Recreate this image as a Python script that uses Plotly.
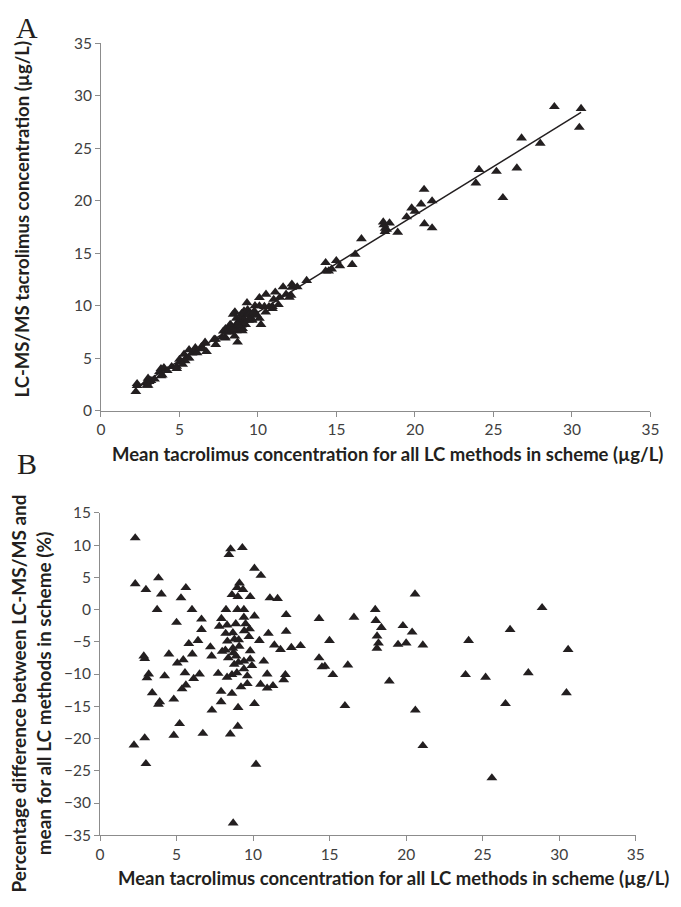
import numpy as np
import plotly.graph_objects as go

# Mean tacrolimus concentration for all LC methods (µg/L)
mean_conc = [2.30, 2.30, 3.00, 3.82, 4.01, 3.73, 5.29, 5.61, 5.00, 6.01,
             6.63, 6.63, 6.40, 5.80, 6.03, 4.50, 2.86, 2.92, 3.18, 3.07,
             4.22, 3.41, 3.90, 3.82, 4.82, 5.05, 5.44, 5.55, 6.12, 6.50,
             5.61, 5.36, 5.20, 7.31, 7.91, 7.91, 8.62, 9.02, 10.09, 9.21,
             9.62, 7.72, 8.30, 8.62, 8.94, 9.40, 9.62, 9.92, 10.49, 10.92,
             10.92, 11.30, 10.70, 9.81, 10.41, 11.00, 11.39, 11.79, 12.16, 12.16,
             11.10, 11.60, 12.11, 12.00, 10.09, 10.51, 8.53, 9.30, 8.42, 9.11,
             8.96, 9.34, 8.62, 9.00, 9.81, 8.23, 8.98, 9.40, 7.93, 7.79,
             8.30, 8.87, 9.40, 9.51, 10.09, 8.21, 8.68, 9.42, 9.77, 9.73,
             8.32, 8.78, 9.06, 7.21, 7.29, 7.98, 8.19, 8.68, 9.09, 8.38,
             8.89, 9.04, 9.40, 9.81, 8.77, 4.82, 6.72, 8.51, 9.00, 2.22,
             2.92, 3.00, 10.19, 8.70, 14.31, 16.59, 20.58, 17.98, 18.02, 18.38,
             19.79, 20.39, 18.10, 18.19, 18.09, 19.47, 20.00, 21.09, 14.99, 13.10,
             12.50, 14.31, 14.50, 14.69, 16.19, 15.21, 18.90, 16.00, 20.60, 21.09,
             24.08, 26.79, 28.88, 30.58, 23.88, 25.19, 27.98, 30.47, 26.49, 25.60,
             8.72]

# LC-MS/MS tacrolimus concentration (µg/L) - panel A
lcmsms_conc = [2.59, 2.40, 3.10, 4.02, 4.11, 3.73, 5.39, 5.81, 4.90, 6.01,
               6.53, 6.43, 6.11, 5.51, 5.64, 4.21, 2.67, 2.71, 2.89, 2.78,
               3.83, 3.02, 3.41, 3.33, 4.23, 4.66, 5.05, 5.05, 5.53, 5.91,
               5.02, 4.77, 4.42, 6.32, 6.92, 7.02, 7.63, 7.83, 8.80, 8.22,
               8.63, 7.02, 7.51, 7.83, 8.14, 8.61, 8.72, 9.13, 9.40, 9.93,
               9.73, 10.11, 9.91, 9.22, 9.93, 10.61, 10.80, 11.10, 11.76, 12.06,
               11.30, 11.80, 11.00, 10.82, 10.78, 11.10, 9.42, 10.29, 9.20, 9.50,
               9.28, 9.64, 8.82, 9.18, 10.01, 8.23, 8.98, 9.40, 7.82, 7.59,
               8.11, 8.68, 9.29, 9.31, 9.99, 7.92, 8.38, 9.12, 9.49, 9.34,
               7.93, 8.39, 8.65, 6.81, 6.80, 7.49, 7.70, 8.19, 8.60, 7.80,
               8.29, 8.35, 8.70, 9.11, 8.08, 4.03, 5.64, 7.13, 7.62, 1.83,
               2.44, 2.42, 8.22, 6.54, 14.11, 16.39, 21.09, 17.98, 17.72, 17.88,
               19.31, 19.70, 17.39, 17.29, 17.07, 18.47, 19.01, 19.99, 14.30, 12.41,
               11.80, 13.31, 13.31, 13.50, 14.91, 13.81, 17.01, 13.93, 17.82, 17.42,
               22.98, 25.98, 28.97, 28.79, 21.69, 22.80, 25.48, 26.99, 23.12, 20.30,
               8.17]

# Percentage difference (%) - panel B
pct_diff = [11.1, 4.0, 3.1, 4.9, 2.4, 0.0, 1.8, 3.4, -2.0, 0.0,
            -1.5, -3.1, -4.8, -5.3, -6.9, -6.9, -7.2, -7.6, -10.0, -10.6,
            -10.3, -12.9, -14.3, -14.7, -13.9, -8.3, -7.8, -9.8, -10.7, -10.0,
            -11.7, -12.3, -17.7, -15.6, -14.3, -12.7, -13.0, -15.2, -14.6, -12.0,
            -11.5, -9.9, -10.5, -10.1, -9.8, -9.2, -10.3, -8.7, -11.6, -10.0,
            -12.2, -11.8, -8.0, -6.4, -4.8, -3.7, -5.5, -6.2, -3.4, -0.8,
            1.8, 1.7, -10.1, -10.9, 6.4, 5.3, 9.4, 9.6, 8.5, 4.1,
            3.4, 3.1, 2.3, 2.0, 2.0, 0.0, 0.0, 0.0, -1.4, -2.6,
            -2.4, -2.2, -1.2, -2.2, -1.0, -3.7, -3.6, -3.3, -3.0, -4.2,
            -4.9, -4.6, -4.7, -5.8, -7.2, -6.5, -6.3, -6.0, -5.7, -7.5,
            -7.2, -8.2, -8.0, -7.7, -8.5, -19.5, -19.2, -19.3, -18.1, -21.0,
            -19.9, -23.9, -24.0, -33.1, -1.4, -1.2, 2.4, 0.0, -1.7, -2.8,
            -2.5, -3.5, -4.1, -5.2, -6.0, -5.4, -5.2, -5.5, -4.8, -5.6,
            -5.9, -7.5, -8.9, -8.8, -8.6, -10.1, -11.1, -14.9, -15.6, -21.1,
            -4.8, -3.1, 0.3, -6.2, -10.1, -10.5, -9.8, -12.9, -14.6, -26.1,
            -6.7]

x_ticks = [0, 5, 10, 15, 20, 25, 30, 35]
yA_ticks = [0, 5, 10, 15, 20, 25, 30, 35]
yB_ticks = [15, 10, 5, 0, -5, -10, -15, -20, -25, -30, -35]

x_title = "Mean tacrolimus concentration for all LC methods in scheme (µg/L)"
yA_title = "LC-MS/MS tacrolimus concentration (µg/L)"
yB_title = "Percentage difference between LC-MS/MS and<br>mean for all LC methods in scheme (%)"

W, H = 681, 907
marker_color = "#231f20"
axis_color = "#8c8c8c"
tick_font = dict(family="Lato, 'Open Sans', sans-serif", size=15.5, color="#404040")
title_font = dict(family="Lato, 'Open Sans', sans-serif", size=18.5, color="#231f20")
titleB_font = dict(family="Lato, 'Open Sans', sans-serif", size=19, color="#231f20")

# linear trendline fitted to the panel A data
slope, intercept = np.polyfit(mean_conc, lcmsms_conc, 1)
x_line = np.array([min(mean_conc), max(mean_conc)])
y_line = slope * x_line + intercept

fig = go.Figure()
fig.add_trace(go.Scatter(x=mean_conc, y=lcmsms_conc, mode="markers",
                         marker=dict(symbol="triangle-up", size=9.5, color=marker_color),
                         xaxis="x", yaxis="y", showlegend=False))
fig.add_trace(go.Scatter(x=x_line, y=y_line, mode="lines",
                         line=dict(color=marker_color, width=1.5),
                         xaxis="x", yaxis="y", showlegend=False))
fig.add_trace(go.Scatter(x=mean_conc, y=pct_diff, mode="markers",
                         marker=dict(symbol="triangle-up", size=9.5, color=marker_color),
                         xaxis="x2", yaxis="y2", showlegend=False))

axis_common = dict(showgrid=False, zeroline=False, showline=True, linecolor=axis_color,
                   linewidth=1, ticks="outside", ticklen=5, tickcolor=axis_color,
                   tickfont=tick_font)

fig.update_layout(
    width=W, height=H,
    margin=dict(l=0, r=0, t=0, b=0),
    paper_bgcolor="white", plot_bgcolor="white",
    xaxis=dict(domain=[98 / W, 659 / W], range=[0, 35], tickvals=x_ticks,
               anchor="y", **axis_common),
    yaxis=dict(domain=[1 - 409 / H, 1 - 34 / H], range=[0, 35], tickvals=yA_ticks,
               anchor="x", **axis_common),
    xaxis2=dict(domain=[97 / W, 644 / W], range=[0, 35], tickvals=x_ticks,
                anchor="y2", **axis_common),
    yaxis2=dict(domain=[1 - 842 / H, 1 - 513 / H], range=[-35, 15], tickvals=yB_ticks,
                anchor="x2", **axis_common),
)

annotations = [
    dict(text="A", x=22 / W, y=1 - 18 / H, xref="paper", yref="paper",
         showarrow=False, xanchor="center", yanchor="middle",
         font=dict(family="Liberation Serif, serif", size=30, color="#231f20")),
    dict(text="B", x=22 / W, y=1 - 463 / H, xref="paper", yref="paper",
         showarrow=False, xanchor="center", yanchor="middle",
         font=dict(family="Liberation Serif, serif", size=30, color="#231f20")),
    dict(text="<b>" + x_title + "</b>", x=391 / W, y=1 - 453 / H, xref="paper", yref="paper",
         showarrow=False, xanchor="center", yanchor="middle", font=title_font),
    dict(text="<b>" + x_title + "</b>", x=397 / W, y=1 - 886 / H, xref="paper", yref="paper",
         showarrow=False, xanchor="center", yanchor="middle", font=title_font),
    dict(text="<b>" + yA_title + "</b>", x=17 / W, y=1 - 214 / H, xref="paper", yref="paper",
         showarrow=False, xanchor="center", yanchor="middle", textangle=-90, font=title_font),
    dict(text="<b>" + yB_title + "</b>", x=27 / W, y=1 - 697 / H, xref="paper", yref="paper",
         showarrow=False, xanchor="center", yanchor="middle", textangle=-90, font=titleB_font),
]
fig.update_layout(annotations=annotations)

fig.write_html("out.html",
               config={"displayModeBar": False},
               post_script="document.body.style.margin='0';document.body.style.overflow='hidden';")
